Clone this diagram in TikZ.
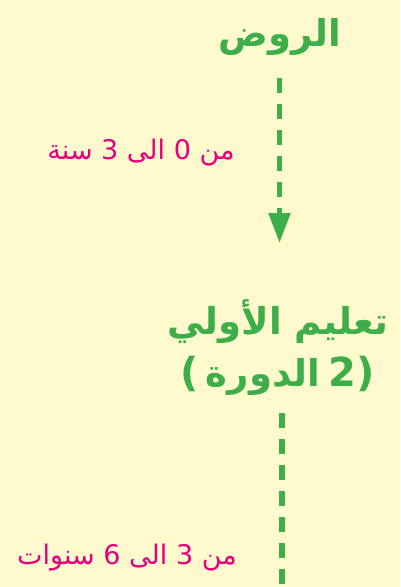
\documentclass[tikz,border=0pt]{standalone}
\usepackage{fontspec}
\usetikzlibrary{arrows.meta}
\TeXXeTstate=1
\newfontfamily\arabicfont[Script=Arabic]{DejaVu Sans}
\newfontfamily\plainfont{DejaVu Sans}
\definecolor{bgc}{HTML}{FFFACD}
\definecolor{grn}{HTML}{3DAE4A}
\definecolor{pnk}{HTML}{E6007E}
\tikzset{
  titlenode/.style={text=grn, font=\arabicfont\bfseries\fontsize{37}{53}\selectfont, inner sep=0pt, align=center},
  parennode/.style={text=grn, font=\plainfont\bfseries\fontsize{40}{48}\selectfont, inner sep=0pt},
  agelabel/.style={text=pnk, font=\arabicfont\fontsize{27}{32}\selectfont, inner sep=0pt},
  dashline/.style={draw=grn, line width=5.5pt, dash pattern=on 15pt off 11pt},
}
\begin{document}
\begin{tikzpicture}[x=1pt,y=-1pt]
\useasboundingbox[fill=bgc] (0,0) rectangle (400,587);
\node[titlenode] (rawd) at (280,37) {\beginR الروض\endR};
\node[titlenode] (taalim) at (278,322) {\beginR تعليم الأولي\endR};
\node[titlenode, anchor=base] (dawra) at (263,386) {\beginR الدورة\endR};
\node[parennode, anchor=base east] (lparen) at ([xshift=-7pt]dawra.base west) {(};
\node[parennode, anchor=base west] (cycle) at ([xshift=8pt]dawra.base east) {2)};
\node[agelabel] (age1) at (141,153) {\beginR من 0 الى 3 سنة\endR};
\node[agelabel] (age2) at (127,558) {\beginR من 3 الى 6 سنوات\endR};
\coordinate (s1) at (279.5,78);
\coordinate (e1) at (279.5,243);
\coordinate (s2) at (282,413);
\coordinate (e2) at (282,590);
\draw[dashline, -{Triangle[width=21pt,length=30pt]}] (s1) -- (e1);
\draw[dashline] (s2) -- (e2);
\end{tikzpicture}
\end{document}
